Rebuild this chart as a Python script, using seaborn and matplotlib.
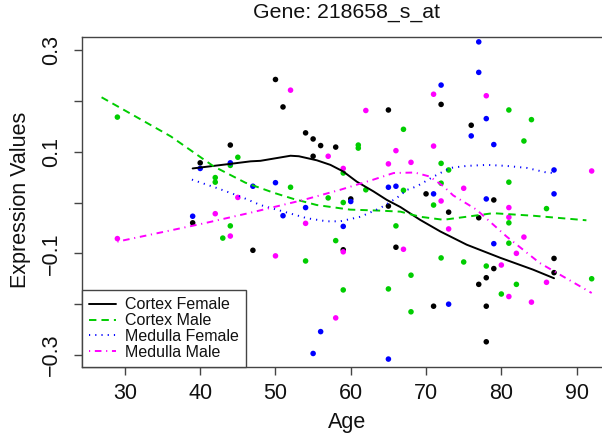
import numpy as np
import pandas as pd
import matplotlib
matplotlib.use("Agg")
import matplotlib.pyplot as plt
import seaborn as sns

# ---------------- data ----------------
cf_age = [44, 40, 50, 51, 54, 55, 56, 58, 55, 60, 65, 72, 76, 70, 79, 39, 65, 47, 59, 66,
          73, 77, 79, 87, 87, 78, 77, 71, 78, 78]
cf_val = [0.113, 0.078, 0.242, 0.188, 0.137, 0.125, 0.112, 0.109, 0.091, 0.007, 0.182, 0.193,
          0.152, 0.017, 0.005, -0.040, -0.007, -0.094, -0.093, -0.088, -0.019, -0.030, -0.130,
          -0.110, -0.138, -0.148, -0.161, -0.204, -0.204, -0.274]

cm_age = [29, 45, 44, 42, 42, 59, 61, 61, 67, 52, 62, 67, 57, 81, 84, 83, 72, 73, 72, 81,
          44, 43, 59, 66, 58, 54, 68, 59, 65, 68, 71, 86, 81, 81, 72, 75, 78, 82, 92, 80]
cm_val = [0.168, 0.089, 0.073, 0.049, 0.040, 0.058, 0.113, 0.107, 0.144, 0.030, 0.025, 0.024,
          0.009, 0.182, 0.163, 0.121, 0.077, 0.064, 0.038, 0.040, -0.046, -0.070, 0.000, -0.046,
          -0.075, -0.115, -0.143, -0.172, -0.170, -0.215, -0.005, -0.012, -0.040, -0.080,
          -0.109, -0.117, -0.125, -0.161, -0.150, -0.180]

mf_age = [40, 44, 47, 50, 65, 66, 77, 77, 72, 78, 76, 79, 87, 71, 87, 78, 39, 60, 54, 51,
          59, 56, 55, 65, 79, 73]
mf_val = [0.067, 0.078, 0.032, 0.039, 0.030, 0.032, 0.316, 0.256, 0.231, 0.165, 0.131, 0.114,
          0.064, 0.017, 0.017, 0.007, -0.027, 0.002, -0.010, -0.026, -0.047, -0.254, -0.297,
          -0.308, -0.081, -0.200]

mm_age = [45, 52, 57, 59, 62, 66, 65, 68, 71, 78, 71, 92, 75, 42, 44, 29, 54, 59, 67, 50,
          58, 72, 81, 81, 73, 83, 82, 80, 86, 81, 84]
mm_val = [0.010, 0.221, 0.091, 0.067, 0.181, 0.102, 0.076, 0.079, 0.213, 0.210, 0.111, 0.062,
          0.028, -0.022, -0.066, -0.071, -0.041, -0.097, -0.092, -0.105, -0.227, 0.003, -0.010,
          -0.029, -0.052, -0.068, -0.100, -0.123, -0.157, -0.185, -0.196]

# smoothed fits
cf_fit_age = [39, 44, 46.7, 48, 52, 53.1, 55.5, 57.3, 59, 60.8, 63, 64.8, 66.6, 69.2, 71.9,
              75.4, 79.9, 84.2, 87]
cf_fit_val = [0.067, 0.076, 0.081, 0.082, 0.092, 0.091, 0.083, 0.074, 0.061, 0.041, 0.022,
              0.005, -0.009, -0.034, -0.057, -0.083, -0.109, -0.132, -0.149]

cm_fit_age = [26.9, 36.1, 41.8, 46.0, 49.8, 52.4, 55.5, 59.9, 63.9, 66.6, 69.2, 72.3, 75.4,
              78.9, 84.2, 91.3]
cm_fit_val = [0.207, 0.130, 0.071, 0.039, 0.019, 0.007, -0.005, -0.014, -0.016, -0.018,
              -0.028, -0.034, -0.028, -0.021, -0.026, -0.035]

mf_fit_age = [38.9, 42.3, 45.3, 48.0, 51.1, 54.2, 56.8, 58.6, 61.3, 63.9, 66.1, 67.5, 68.8,
              71.0, 73.2, 75.4, 78.1, 80.7, 83.4, 86.0, 87.0]
mf_fit_val = [0.045, 0.028, 0.012, -0.005, -0.018, -0.031, -0.037, -0.037, -0.028, -0.011,
              0.009, 0.025, 0.032, 0.051, 0.068, 0.072, 0.074, 0.072, 0.068, 0.059, 0.058]

mm_fit_age = [29, 40.5, 46.7, 53.7, 58.6, 63.0, 65.7, 68.5, 70.5, 72.3, 73.6, 76.7, 80.7,
              85.1, 92.0]
mm_fit_val = [-0.077, -0.041, -0.020, 0.005, 0.025, 0.045, 0.058, 0.059, 0.051, 0.032,
              0.014, -0.014, -0.067, -0.119, -0.178]

groups = ["Cortex Female", "Cortex Male", "Medulla Female", "Medulla Male"]
colors = ["#000000", "#00CD00", "#0000FF", "#FF00FF"]
x_ticks = [30, 40, 50, 60, 70, 80, 90]
y_ticks = [-0.3, -0.2, -0.1, 0.0, 0.1, 0.2, 0.3]
y_tick_labels = ["\u22120.3", "", "\u22120.1", "", "0.1", "", "0.3"]

# ---------------- build frames ----------------
pts = pd.concat([
    pd.DataFrame({"Age": a, "Value": v, "Group": g})
    for a, v, g in zip([cf_age, cm_age, mf_age, mm_age],
                       [cf_val, cm_val, mf_val, mm_val], groups)
], ignore_index=True)

fits = [pd.DataFrame({"Age": a, "Value": v, "Group": g})
        for a, v, g in zip([cf_fit_age, cm_fit_age, mf_fit_age, mm_fit_age],
                           [cf_fit_val, cm_fit_val, mf_fit_val, mm_fit_val], groups)]

# ---------------- plot ----------------
sns.set_style("white")
plt.rcParams["font.family"] = ["Liberation Sans", "DejaVu Sans"]

W, H = 602, 436
fig = plt.figure(figsize=(W / 100, H / 100), dpi=100)
ax = fig.add_axes([82 / W, (H - 367) / H, 530 / W, 329.5 / H])

palette = dict(zip(groups, colors))
sns.scatterplot(data=pts, x="Age", y="Value", hue="Group", palette=palette,
                s=16, linewidth=0, legend=False, ax=ax, zorder=2)

styles = ["-", (0, (3.8, 2.6)), (0, (0.6, 2.6)), (0, (0.6, 2.4, 3.4, 2.4))]
handles = []
for df, g, c, ls in zip(fits, groups, colors, styles):
    sns.lineplot(data=df, x="Age", y="Value", color=c, linestyle=ls, linewidth=1.4,
                 ax=ax, sort=True, estimator=None, zorder=3)
    handles.append(ax.lines[-1])

ax.set_xlim(24.3, 94.7)
ax.set_ylim(-0.3236, 0.3246)
ax.set_xticks(x_ticks)
ax.set_xticklabels([str(t) for t in x_ticks])
ax.set_yticks(y_ticks)
ax.set_yticklabels(y_tick_labels, rotation=90, va="center")

for s in ax.spines.values():
    s.set_color("#444444")
    s.set_linewidth(1.0)
ax.tick_params(axis="both", which="major", bottom=True, left=True, top=False, right=False,
               direction="out", length=5.5, width=1.0, color="#444444", labelsize=15.5,
               labelcolor="#111111")
ax.tick_params(axis="x", pad=6)
ax.tick_params(axis="y", pad=9)

ax.set_xlabel("Age", fontsize=15.5, color="#111111")
ax.set_ylabel("Expression Values", fontsize=15.5, color="#111111")
ax.xaxis.set_label_coords(347 / W, 1 - 412 / H, transform=fig.transFigure)
ax.yaxis.set_label_coords(31 / W, 1 - 200 / H, transform=fig.transFigure)

fig.text(347 / W, 1 - 12 / H, "Gene: 218658_s_at", ha="center", va="center",
         fontsize=15.3, color="#111111")

leg = ax.legend(handles, groups, loc="lower left", bbox_to_anchor=(0, 0), borderaxespad=0,
                fancybox=False, frameon=True, framealpha=1, edgecolor="#444444",
                fontsize=11.5, handlelength=1.7, handletextpad=0.55, labelspacing=0.05,
                borderpad=0.45)
leg.get_frame().set_linewidth(1.0)
for t in leg.get_texts():
    t.set_color("#111111")

fig.savefig("out.png", dpi=100)
